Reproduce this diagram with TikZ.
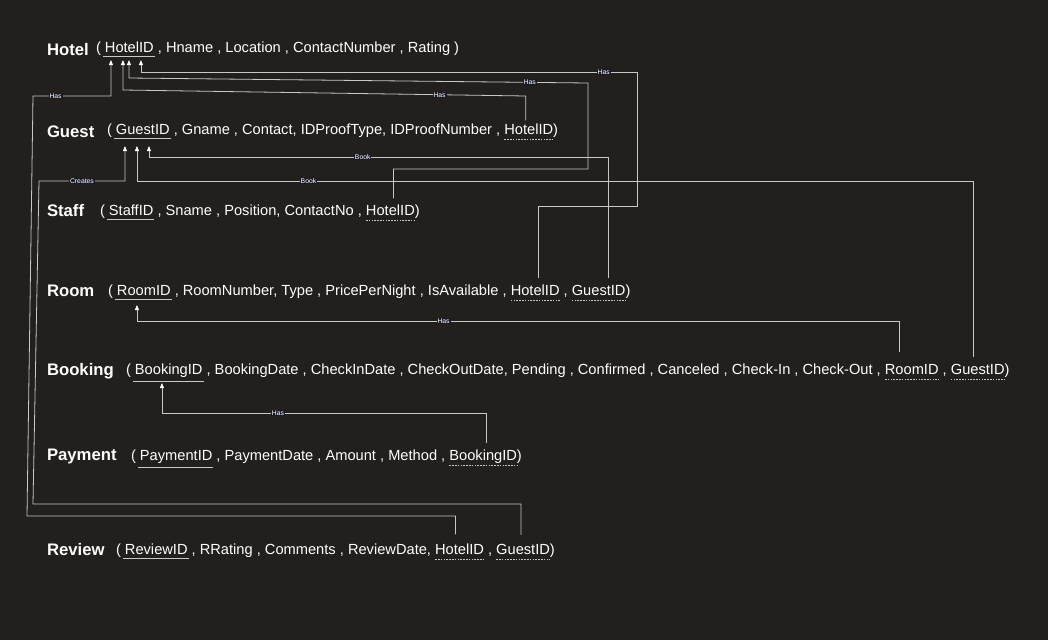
\documentclass[tikz,border=0pt]{standalone}
\usepackage{fontspec}
\setmainfont{Liberation Sans}
\usetikzlibrary{arrows.meta}
\definecolor{bg}{RGB}{34,31,28}
\definecolor{wire}{RGB}{200,200,200}
\definecolor{lblbg}{RGB}{26,25,40}
\newcommand\tblnamefont{\fontsize{16.7}{18}\selectfont\bfseries}
\newcommand\tblattrfont{\fontsize{14.65}{16}\selectfont}
\begin{document}
\begin{tikzpicture}[x=1pt,y=-1pt,
  every node/.style={inner sep=0pt, outer sep=0pt, text=white},
  tname/.style={font=\tblnamefont, anchor=base west},
  attr/.style={font=\tblattrfont, anchor=base west},
  seq/.style={attr, at={(#1.base east)}},
  conn/.style={draw=wire, line width=0.8pt},
  tip/.style={conn, -{Triangle[length=5pt,width=4pt,color=white]}},
  lbl/.style={font=\fontsize{6.8}{7}\selectfont, fill=lblbg, inner xsep=1pt, inner ysep=0.8pt},
  pkline/.style={draw=wire, line width=0.9pt},
  fkline/.style={draw=wire, line width=0.7pt, dash pattern=on 1.6pt off 1.2pt}
]
\fill[bg] (0,0) rectangle (1048,640);
\useasboundingbox (0,0) rectangle (1048,640);

% Hotel
\node[tname] (hotel) at (47,55) {Hotel};
\node[attr] (hotel-a) at (96,52) {(\ \null};
\node[seq=hotel-a] (hotel-pk) {HotelID};
\node[seq=hotel-pk] (hotel-b) {\ , Hname , Location , ContactNumber , Rating )};

% Guest
\node[tname] (guest) at (47,137) {Guest};
\node[attr] (guest-a) at (107,134) {(\ \null};
\node[seq=guest-a] (guest-pk) {GuestID};
\node[seq=guest-pk] (guest-b) {\ , Gname , Contact, IDProofType, IDProofNumber ,\ \null};
\node[seq=guest-b] (guest-hid) {HotelID};
\node[seq=guest-hid] (guest-c) {)};

% Staff
\node[tname] (staff) at (47,216) {Staff};
\node[attr] (staff-a) at (100,215) {(\ \null};
\node[seq=staff-a] (staff-pk) {StaffID};
\node[seq=staff-pk] (staff-b) {\ , Sname , Position, ContactNo ,\ \null};
\node[seq=staff-b] (staff-hid) {HotelID};
\node[seq=staff-hid] (staff-c) {)};

% Room
\node[tname] (room) at (47,296) {Room};
\node[attr] (room-a) at (108,295) {(\ \null};
\node[seq=room-a] (room-pk) {RoomID};
\node[seq=room-pk] (room-b) {\ , RoomNumber, Type , PricePerNight , IsAvailable ,\ \null};
\node[seq=room-b] (room-hid) {HotelID};
\node[seq=room-hid] (room-c) {\ ,\ \null};
\node[seq=room-c] (room-gid) {GuestID};
\node[seq=room-gid] (room-d) {)};

% Booking
\node[tname] (booking) at (47,375) {Booking};
\node[attr] (booking-a) at (126,374) {(\ \null};
\node[seq=booking-a] (booking-pk) {BookingID};
\node[seq=booking-pk] (booking-b) {\ , BookingDate , CheckInDate , CheckOutDate, Pending , Confirmed , Canceled , Check-In , Check-Out ,\ \null};
\node[seq=booking-b] (booking-rid) {RoomID};
\node[seq=booking-rid] (booking-c) {\ ,\ \null};
\node[seq=booking-c] (booking-gid) {GuestID};
\node[seq=booking-gid] (booking-d) {)};

% Payment
\node[tname] (payment) at (47,460) {Payment};
\node[attr] (payment-a) at (131,460) {(\ \null};
\node[seq=payment-a] (payment-pk) {PaymentID};
\node[seq=payment-pk] (payment-b) {\ , PaymentDate , Amount , Method ,\ \null};
\node[seq=payment-b] (payment-bid) {BookingID};
\node[seq=payment-bid] (payment-c) {)};

% Review
\node[tname] (review) at (47,555) {Review};
\node[attr] (review-a) at (116,554) {(\ \null};
\node[seq=review-a] (review-pk) {ReviewID};
\node[seq=review-pk] (review-b) {\ , RRating , Comments , ReviewDate,\ \null};
\node[seq=review-b] (review-hid) {HotelID};
\node[seq=review-hid] (review-c) {\ ,\ \null};
\node[seq=review-c] (review-gid) {GuestID};
\node[seq=review-gid] (review-d) {)};

% key underlines
\foreach \n in {hotel-pk,guest-pk,staff-pk,room-pk,booking-pk,payment-pk,review-pk}
  \draw[pkline] ([xshift=-1.5pt,yshift=-4pt]\n.south west) -- ([xshift=1pt,yshift=-4pt]\n.south east);
\foreach \n in {guest-hid,staff-hid,room-hid,room-gid,booking-rid,booking-gid,payment-bid,review-hid,review-gid}
  \draw[fkline] ([yshift=-5pt]\n.base west) -- ([yshift=-5pt]\n.base east);

% arrow targets
\coordinate (t-h1) at ([xshift=6pt,yshift=-8pt]hotel-pk.base west);
\coordinate (t-h2) at ([xshift=18pt,yshift=-8pt]hotel-pk.base west);
\coordinate (t-h3) at ([xshift=24pt,yshift=-8pt]hotel-pk.base west);
\coordinate (t-h4) at ([xshift=36pt,yshift=-8pt]hotel-pk.base west);
\coordinate (t-g1) at ([xshift=9pt,yshift=-12pt]guest-pk.base west);
\coordinate (t-g2) at ([xshift=21pt,yshift=-12pt]guest-pk.base west);
\coordinate (t-g3) at ([xshift=33pt,yshift=-12pt]guest-pk.base west);
\coordinate (t-r) at ([xshift=20pt,yshift=-10pt]room-pk.base west);
\coordinate (t-b) at ([xshift=27pt,yshift=-9pt]booking-pk.base west);

% connector starts
\coordinate (s1) at ([xshift=-4pt,yshift=9pt]review-hid.north);
\coordinate (s2) at ([xshift=-3pt,yshift=3pt]guest-hid.north);
\coordinate (s3) at ([xshift=3pt,yshift=6pt]staff-hid.north);
\coordinate (s4) at ([xshift=3pt,yshift=6.5pt]room-hid.north);
\coordinate (s5) at ([xshift=10pt,yshift=6.5pt]room-gid.north);
\coordinate (s6) at ([xshift=-4pt,yshift=6.5pt]booking-gid.north);
\coordinate (s7) at ([xshift=-2pt,yshift=9pt]review-gid.north);
\coordinate (s8) at ([xshift=-12pt,yshift=11.5pt]booking-rid.north);
\coordinate (s9) at ([xshift=3pt,yshift=6.5pt]payment-bid.north);

% connectors
\draw[tip] (s1) -- (s1 |- 0,516) -- (27,516) -- (33,96) -- node[lbl,pos=0.29] (l1) {Has} (t-h1 |- 0,96) -- (t-h1);
\draw[tip] (s2) -- (s2 |- 0,96) -- node[lbl,pos=0.214] (l2) {Has} (t-h2 |- 0,90) -- (t-h2);
\draw[tip] (s3) -- (s3 |- 0,169) -- (588,169) -- (588,83) -- node[lbl,pos=0.127] (l3) {Has} (t-h3 |- 0,78) -- (t-h3);
\draw[tip] (s4) -- (s4 |- 0,206) -- (637,206) -- (637,72) -- node[lbl,pos=0.067] (l4) {Has} (t-h4 |- 0,72) -- (t-h4);
\draw[tip] (s5) -- (s5 |- 0,157) -- node[lbl,pos=0.535] (l5) {Book} (t-g3 |- 0,157) -- (t-g3);
\draw[tip] (s6) -- (s6 |- 0,181) -- node[lbl,pos=0.795] (l6) {Book} (t-g2 |- 0,181) -- (t-g2);
\draw[tip] (s7) -- (s7 |- 0,504) -- (33,504) -- (39,181) -- node[lbl,pos=0.5] (l7) {Creates} (t-g1 |- 0,181) -- (t-g1);
\draw[tip] (s8) -- (s8 |- 0,321) -- node[lbl,pos=0.598] (l8) {Has} (t-r |- 0,321) -- (t-r);
\draw[tip] (s9) -- (s9 |- 0,413) -- node[lbl,pos=0.642] (l9) {Has} (t-b |- 0,413) -- (t-b);
\end{tikzpicture}
\end{document}
